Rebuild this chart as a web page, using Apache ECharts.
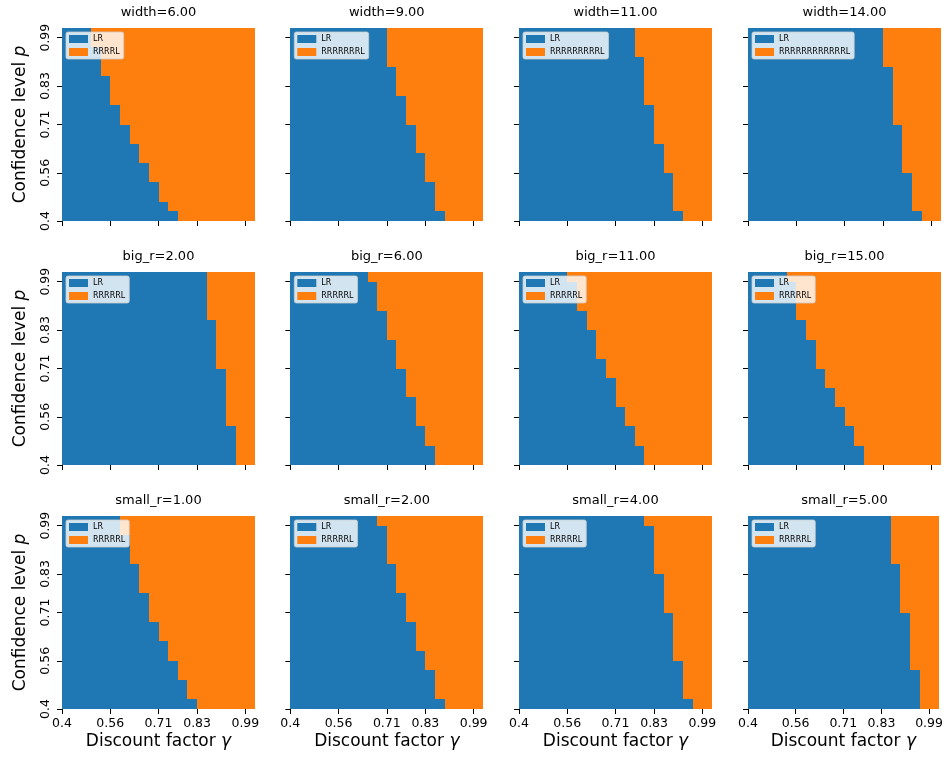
<!DOCTYPE html>
<html><head><meta charset="utf-8">
<script src="https://cdn.jsdelivr.net/npm/echarts@6/dist/echarts.min.js"></script>
<style>html,body{margin:0;padding:0;background:#fff}#c{width:946px;height:760px}</style>
</head><body><div id="c"></div>
<script>
// ---- data ----
const panelTitles = ['width=6.00','width=9.00','width=11.00','width=14.00',
  'big_r=2.00','big_r=6.00','big_r=11.00','big_r=15.00',
  'small_r=1.00','small_r=2.00','small_r=4.00','small_r=5.00'];
const patternNames = ['RRRRL','RRRRRRRL','RRRRRRRRRL','RRRRRRRRRRRRL',
  'RRRRRL','RRRRRL','RRRRRL','RRRRRL','RRRRRL','RRRRRL','RRRRRL','RRRRRL'];
const firstLabel = 'LR';
// number of LR cells (from left) in each row of the grid, bottom row first
const lrWidth6   = [12,11,10,10,9,9,8,8,7,7,6,6,5,5,5,4,4,4,3,3];
const lrWidth9   = [16,15,15,15,14,14,14,13,13,13,12,12,12,11,11,11,10,10,10,10];
const lrWidth11  = [17,16,16,16,16,15,15,15,14,14,14,14,13,13,13,13,13,12,12,12];
const lrWidth14  = [18,17,17,17,17,16,16,16,16,16,15,15,15,15,15,15,14,14,14,14];
const lrBigR2    = [18,18,18,18,17,17,17,17,17,17,16,16,16,16,16,15,15,15,15,15];
const lrBigR6    = [15,15,14,14,13,13,13,12,12,12,11,11,11,10,10,10,9,9,9,8];
const lrBigR11   = [13,13,12,12,11,11,10,10,10,9,9,8,8,8,7,7,6,6,6,5];
const lrBigR15   = [12,12,11,11,10,10,9,9,8,8,7,7,7,6,6,5,5,5,5,4];
const lrSmallR1  = [14,13,13,12,12,11,11,10,10,9,9,9,8,8,8,7,7,7,6,6];
const lrSmallR2  = [16,15,15,15,14,14,13,13,13,12,12,12,11,11,11,10,10,10,10,9];
const lrSmallR4  = [18,17,17,17,17,16,16,16,16,16,15,15,15,15,14,14,14,14,14,13];
const lrSmallR5  = [18,18,18,18,17,17,17,17,17,17,16,16,16,16,16,15,15,15,15,15];
const boundaries = [lrWidth6,lrWidth9,lrWidth11,lrWidth14,lrBigR2,lrBigR6,lrBigR11,lrBigR15,
  lrSmallR1,lrSmallR2,lrSmallR4,lrSmallR5];
const nCells = 20;
const tickIndex = [0,5,10,14,19];
const tickLabels = ['0.4','0.56','0.71','0.83','0.99'];

// ---- layout / style ----
const FONT = 'DejaVu Sans';
const BLUE = '#1f77b4', ORANGE = '#ff7f0e';
const colLeft = [62, 290.3, 519, 748];
const rowTop = [28, 272, 516];
const W = 193, H = 193;

function makeRender(color){
  return function(params, api){
    const j = api.value(0), a = api.value(1), b = api.value(2);
    if (b <= a) return null;
    const tl = api.coord([a, j + 1]);
    const br = api.coord([b, j]);
    const x0 = Math.round(tl[0]), y0 = Math.round(tl[1]);
    const x1 = Math.round(br[0]), y1 = Math.round(br[1]);
    return {type:'rect', shape:{x:x0, y:y0, width:x1-x0, height:y1-y0}, style:{fill:color}};
  };
}
const fmt = v => { const i = tickIndex.indexOf(v); return i >= 0 ? tickLabels[i] : ''; };

const grid = [], xAxis = [], yAxis = [], series = [], legend = [], title = [];
for (let k = 0; k < 12; k++) {
  const r = Math.floor(k / 4), c = k % 4;
  const gl = colLeft[c], gt = rowTop[r];
  grid.push({left: gl, top: gt, width: W, height: H, containLabel: false});
  title.push({text: panelTitles[k], left: gl + W/2, top: gt - 22, textAlign: 'center', padding: 0,
    textStyle: {fontFamily: FONT, fontSize: 13, fontWeight: 'normal', color: '#000'}});
  xAxis.push({type: 'value', gridIndex: k, min: 0, max: nCells,
    axisLine: {show: false}, splitLine: {show: false},
    axisTick: {show: true, length: 5, customValues: tickIndex, lineStyle: {color: '#000', width: 1}},
    axisLabel: {show: r === 2, customValues: tickIndex, formatter: fmt, margin: 8,
      fontFamily: FONT, fontSize: 12.5, color: '#000'},
    name: r === 2 ? 'Discount factor {i|γ}' : '', nameLocation: 'middle', nameGap: 24,
    nameTextStyle: {fontFamily: FONT, fontSize: 17, color: '#000',
      rich: {i: {fontFamily: FONT, fontSize: 17, fontStyle: 'italic', color: '#000'}}}
  });
  yAxis.push({type: 'value', gridIndex: k, min: 0, max: nCells,
    axisLine: {show: false}, splitLine: {show: false},
    axisTick: {show: true, length: 5, customValues: tickIndex, lineStyle: {color: '#000', width: 1}},
    axisLabel: {show: c === 0, customValues: tickIndex, formatter: fmt, rotate: 90, margin: 10,
      fontFamily: FONT, fontSize: 12.5, color: '#000'},
    name: c === 0 ? 'Confidence level {i|p}' : '', nameLocation: 'middle', nameGap: 33,
    nameTextStyle: {fontFamily: FONT, fontSize: 17, color: '#000',
      rich: {i: {fontFamily: FONT, fontSize: 17, fontStyle: 'italic', color: '#000'}}}
  });
  const b = boundaries[k];
  series.push({type: 'custom', name: firstLabel, xAxisIndex: k, yAxisIndex: k,
    itemStyle: {color: BLUE}, renderItem: makeRender(BLUE), encode: {x: [1, 2], y: 0},
    data: b.map((n, j) => [j, 0, n]), silent: true});
  series.push({type: 'custom', name: patternNames[k], xAxisIndex: k, yAxisIndex: k,
    itemStyle: {color: ORANGE}, renderItem: makeRender(ORANGE), encode: {x: [1, 2], y: 0},
    data: b.map((n, j) => [j, n, nCells]), silent: true});
  legend.push({left: gl + 4, top: gt + 4, orient: 'vertical', selectedMode: false,
    data: [{name: firstLabel, icon: 'rect'}, {name: patternNames[k], icon: 'rect'}],
    itemWidth: 19, itemHeight: 8, itemGap: 5, padding: [3, 4, 3, 3],
    backgroundColor: 'rgba(255,255,255,0.8)', borderColor: 'rgba(204,204,204,0.8)',
    borderWidth: 1, borderRadius: 2,
    textStyle: {fontFamily: FONT, fontSize: 8, color: '#000', lineHeight: 8}});
}

const chart = echarts.init(document.getElementById('c'), null, {renderer: 'canvas'});
chart.setOption({animation: false, backgroundColor: '#fff', grid, xAxis, yAxis, series, legend, title});
</script></body></html>
